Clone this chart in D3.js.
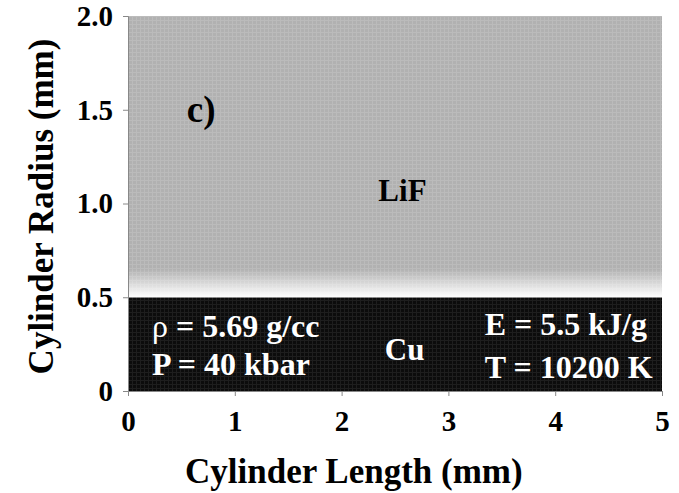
<!DOCTYPE html>
<html>
<head>
<meta charset="utf-8">
<script src="https://cdn.jsdelivr.net/npm/d3@7"></script>
<style>
  html, body { margin: 0; padding: 0; background: #fff; }
  svg text { font-family: "Liberation Serif", "Times New Roman", serif; font-weight: bold; }
</style>
</head>
<body>
<svg id="chart" width="679" height="493"></svg>
<script>
// Axis ticks
const xTicks = [0, 1, 2, 3, 4, 5];
const yTicks = [0, 0.5, 1.0, 1.5, 2.0];

// Material layers: [x0, x1, r0, r1]
const layerNames = ["Cu", "LiF"];
const layerExtents = [[0, 5, 0, 0.5], [0, 5, 0.5, 2.0]];
// Radius over which the LiF layer fades to white near the interface
const fadeRange = [0.5, 0.65];

// Labels placed in data coordinates (baseline positions)
const panelLabel = { text: "c)", x: 0.55, r: 1.435 };
const materialLabels = [
  { text: "LiF", x: 2.57, r: 1.013, fill: "#000" },
  { text: "Cu", x: 2.59, r: 0.165, fill: "#fff" }
];
// each line: [symbol, rest]
const cuStateLeft = [["\u03C1", " = 5.69 g/cc"], ["P", " = 40 kbar"]];
const cuStateRight = [["E", " = 5.5 kJ/g"], ["T", " = 10200 K"]];
const leftRows = [0.288, 0.085];
const rightRows = [0.299, 0.069];
const leftCol = 0.225, rightCol = 3.34;

const svg = d3.select("#chart");
const W = 679, H = 493;
const margin = { left: 128, right: 17, top: 16, bottom: 102 };

const x = d3.scaleLinear().domain([0, 5]).range([margin.left, W - margin.right]);
const y = d3.scaleLinear().domain([0, 2]).range([H - margin.bottom, margin.top]);

const defs = svg.append("defs");

// fine grid texture on the filled regions
const pg = defs.append("pattern").attr("id", "gridGray")
  .attr("patternUnits", "userSpaceOnUse").attr("width", 4).attr("height", 4);
pg.append("rect").attr("width", 4).attr("height", 4).attr("fill", "#b1b1b1");
pg.append("rect").attr("width", 1).attr("height", 4).attr("fill", "#bbbbbb");
pg.append("rect").attr("width", 4).attr("height", 1).attr("fill", "#bbbbbb");

const pb = defs.append("pattern").attr("id", "gridDark")
  .attr("patternUnits", "userSpaceOnUse").attr("width", 4).attr("height", 4);
pb.append("rect").attr("width", 4).attr("height", 4).attr("fill", "#0c0c0c");
pb.append("rect").attr("width", 1).attr("height", 4).attr("fill", "#1e1e1e");
pb.append("rect").attr("width", 4).attr("height", 1).attr("fill", "#1e1e1e");

const fade = defs.append("linearGradient").attr("id", "fade")
  .attr("gradientUnits", "userSpaceOnUse")
  .attr("x1", 0).attr("x2", 0)
  .attr("y1", y(fadeRange[1])).attr("y2", y(fadeRange[0]));
fade.append("stop").attr("offset", "0%").attr("stop-color", "#fff").attr("stop-opacity", 0);
fade.append("stop").attr("offset", "100%").attr("stop-color", "#fff").attr("stop-opacity", 1);

const fills = { LiF: "url(#gridGray)", Cu: "url(#gridDark)" };

// layer rectangles
svg.selectAll("rect.layer").data(layerExtents).join("rect")
  .attr("class", "layer")
  .attr("x", d => x(d[0]))
  .attr("width", d => x(d[1]) - x(d[0]))
  .attr("y", d => y(d[3]))
  .attr("height", d => y(d[2]) - y(d[3]))
  .attr("fill", (d, i) => fills[layerNames[i]]);

// whitening toward the LiF/Cu interface
const lif = layerExtents[1];
svg.append("rect")
  .attr("x", x(lif[0])).attr("width", x(lif[1]) - x(lif[0]))
  .attr("y", y(fadeRange[1])).attr("height", y(fadeRange[0]) - y(fadeRange[1]))
  .attr("fill", "url(#fade)");

// axes
const xAxis = d3.axisBottom(x).tickValues(xTicks).tickSize(5).tickPadding(14)
  .tickFormat(d3.format("d"));
const yAxis = d3.axisLeft(y).tickValues(yTicks).tickSize(5).tickPadding(10)
  .tickFormat(d => d === 0 ? "0" : d.toFixed(1));

const gx = svg.append("g").attr("transform", `translate(0,${y(0)})`).call(xAxis);
const gy = svg.append("g").attr("transform", `translate(${x(0)},0)`).call(yAxis);
[gx, gy].forEach(g => {
  g.select(".domain").attr("stroke", "#888");
  g.selectAll(".tick line").attr("stroke", "#888");
  g.selectAll(".tick text").attr("fill", "#000").style("font-size", "29px")
    .style("font-family", "'Liberation Serif', serif").style("font-weight", "bold");
});
gx.selectAll(".tick text").attr("dy", "0.71em");

// axis titles
svg.append("text")
  .attr("x", 185).attr("y", 483)
  .attr("text-anchor", "start").style("font-size", "35px")
  .text("Cylinder Length (mm)");
svg.append("text")
  .attr("transform", `translate(53,${(y(0) + y(2)) / 2 + 3}) rotate(-90)`)
  .attr("text-anchor", "middle").style("font-size", "35px")
  .text("Cylinder Radius (mm)");

// panel tag
svg.append("text")
  .attr("x", x(panelLabel.x)).attr("y", y(panelLabel.r))
  .style("font-size", "37px").text(panelLabel.text);

// material names
svg.selectAll("text.mat").data(materialLabels).join("text")
  .attr("class", "mat")
  .attr("x", d => x(d.x)).attr("y", d => y(d.r))
  .attr("text-anchor", "middle")
  .attr("fill", d => d.fill)
  .style("font-size", "31px")
  .text(d => d.text);

// Cu state values; the Greek symbol is set in a lighter weight
function stateLines(cls, data, col, rows) {
  const t = svg.selectAll("text." + cls).data(data).join("text")
    .attr("class", cls)
    .attr("x", x(col)).attr("y", (d, i) => y(rows[i]))
    .attr("fill", "#fff")
    .style("font-size", "32px");
  t.append("tspan")
    .style("font-weight", d => d[0] === "\u03C1" ? "normal" : "bold")
    .text(d => d[0]);
  t.append("tspan").text(d => d[1]);
}
stateLines("stateL", cuStateLeft, leftCol, leftRows);
stateLines("stateR", cuStateRight, rightCol, rightRows);
</script>
</body>
</html>
